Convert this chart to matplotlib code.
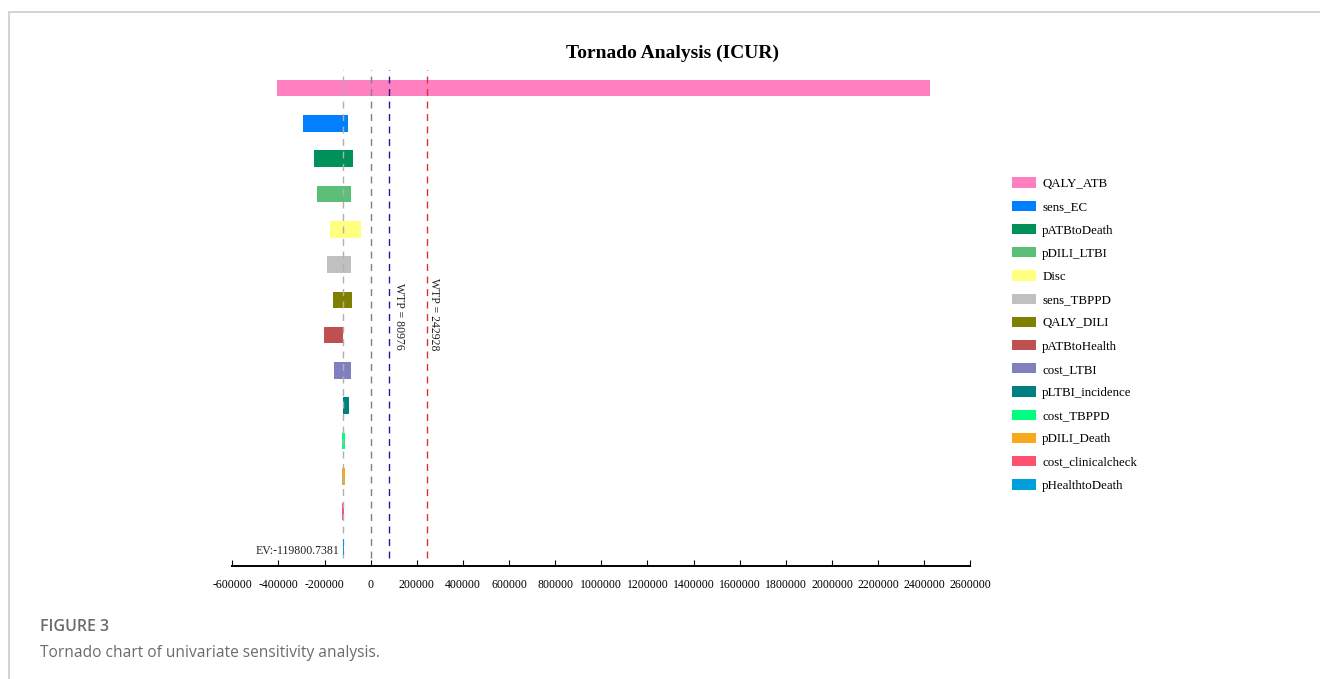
import matplotlib.pyplot as plt
from matplotlib.patches import Patch, Rectangle

# -------------------- данные --------------------
params = [
    "QALY_ATB", "sens_EC", "pATBtoDeath", "pDILI_LTBI", "Disc", "sens_TBPPD",
    "QALY_DILI", "pATBtoHealth", "cost_LTBI", "pLTBI_incidence", "cost_TBPPD",
    "pDILI_Death", "cost_clinicalcheck", "pHealthtoDeath",
]
low_vals = [
    -405000, -292000, -244500, -231500, -176500, -189500,
    -162000, -202500, -158000, -119000, -126000,
    -123000, -126000, -122000,
]
high_vals = [
    2425000, -97000, -75000, -85000, -43000, -85000,
    -80000, -119800, -87000, -93000, -110000,
    -111000, -116000, -117500,
]
colors = [
    "#ff80c0", "#0080ff", "#00915a", "#5bbf7a", "#ffff80", "#c0c0c0",
    "#808000", "#c05050", "#8080c0", "#008080", "#00ff80",
    "#f8a81e", "#ff5070", "#00a0e0",
]
ev = -119800.7381
wtp_low = 80976
wtp_high = 242928
xticks = list(range(-600000, 2600001, 200000))

W, H = 1320, 679
fig = plt.figure(figsize=(W / 100, H / 100), dpi=100)

# рамка карточки
fig.add_artist(Rectangle((9 / W, -0.1), 1.2, 1 - 12 / H + 0.1,
                         transform=fig.transFigure, fill=False,
                         edgecolor="#d0d0d0", linewidth=1.3))

ax = fig.add_axes([232.3 / W, 1 - 566 / H, 738.1 / W, 496 / H])

serif = "Liberation Serif"

for i, (lo, hi, c) in enumerate(zip(low_vals, high_vals, colors)):
    ax.barh(i, hi - lo, left=lo, height=0.47, color=c, edgecolor="none",
            zorder=3 if i == len(params) - 1 else 1)

ax.set_ylim(13.54, -0.51)
ax.set_xlim(-600000, 2600000)

ymin_line = 8 / 496
dash = (0, (5, 4))
ax.axvline(ev, ymin=ymin_line, color="#b0b0b0", linestyle=dash, linewidth=1)
ax.axvline(0, ymin=ymin_line, color="#808080", linestyle=dash, linewidth=1)
ax.axvline(wtp_low, ymin=ymin_line, color="#1c1ca0", linestyle=dash, linewidth=1)
ax.axvline(wtp_high, ymin=ymin_line, color="#e03030", linestyle=dash, linewidth=1)

ax.annotate(f"WTP = {wtp_low}", xy=(wtp_low, (566 - 283) / 496),
            xycoords=ax.get_xaxis_transform(), xytext=(7, 0),
            textcoords="offset points", rotation=270, ha="center", va="top",
            family=serif, fontsize=8.5, color="#222222")
ax.annotate(f"WTP = {wtp_high}", xy=(wtp_high, (566 - 278) / 496),
            xycoords=ax.get_xaxis_transform(), xytext=(5, 0),
            textcoords="offset points", rotation=270, ha="center", va="top",
            family=serif, fontsize=8.5, color="#222222")
ax.annotate(f"EV:{ev}", xy=(ev, len(params) - 1), xytext=(-3, -3),
            textcoords="offset points", ha="right", va="center",
            family=serif, fontsize=8.5, color="#222222")

for s in ["top", "left", "right"]:
    ax.spines[s].set_visible(False)
ax.spines["bottom"].set_linewidth(1.4)
ax.set_yticks([])
ax.set_xticks(xticks)
ax.set_xticklabels([str(t) for t in xticks], family=serif, fontsize=8.5)
ax.tick_params(axis="x", direction="in", length=4, width=0.8, pad=9)

fig.text(673 / W, 1 - 53 / H, "Tornado Analysis (ICUR)", ha="center",
         va="center", family=serif, fontweight="bold", fontsize=14)

handles = [Patch(facecolor=c, edgecolor="none", label=p) for p, c in zip(params, colors)]
fig.legend(handles=handles, loc="upper left",
           bbox_to_anchor=(1006 / W, 1 - 171 / H), frameon=False,
           prop={"family": serif, "size": 9.3}, handlelength=1.85,
           handleheight=0.85, handletextpad=0.45, labelspacing=0.82,
           borderpad=0)

fig.text(40 / W, 1 - 627 / H, "FIGURE 3", ha="left", va="center",
         family="Open Sans", fontweight="semibold", fontsize=11.5, color="#6b6b6b")
fig.text(40 / W, 1 - 653 / H, "Tornado chart of univariate sensitivity analysis.",
         ha="left", va="center", family="Open Sans", fontsize=11.2, color="#6b6b6b")

fig.savefig("out.png", dpi=100)
